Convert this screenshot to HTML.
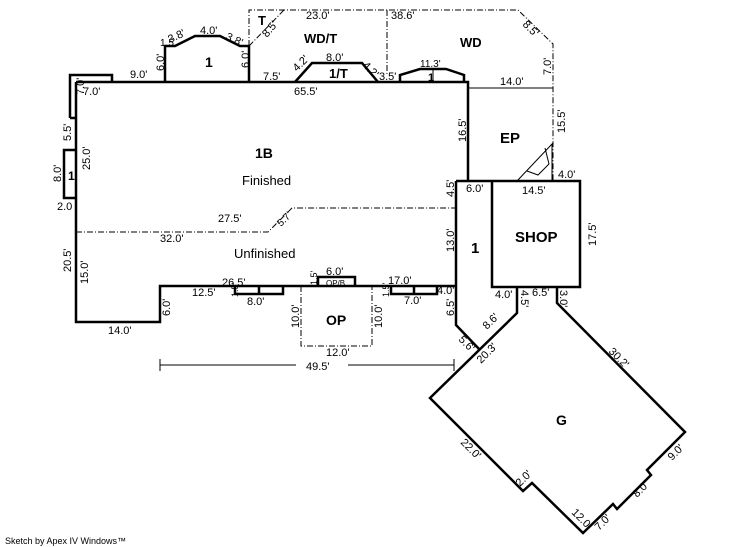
<!DOCTYPE html>
<html><head><style>
body{margin:0;background:#fff}
svg{display:block}
text{font-family:"Liberation Sans",Arial,sans-serif;font-size:11px;fill:#000}
.b{font-weight:bold;font-size:14px}
.t{stroke:#000;stroke-width:2.5;fill:none}
.n{stroke:#000;stroke-width:1;fill:none}
.d{stroke:#000;stroke-width:1;fill:none;stroke-dasharray:6,2,1,2}
</style></head><body>
<svg width="746" height="547" viewBox="0 0 746 547">
<path class="d" d="M249,46 V10 H518 L553,44 V181"/>
<path class="d" d="M249,46 L284,10"/>
<path class="d" d="M387,10 V76"/>
<path class="d" d="M76,232 H268 L292,208 H457"/>
<path class="d" d="M301,286 V346 H372 V286"/>
<path class="t" d="M76,82 H468 V181"/>
<path class="t" d="M76,82 V322 H160 V286 H456"/>
<path class="t" d="M165,82 V46 H175 L195,36 H220 L240,46 H249 V82"/>
<path class="t" d="M295,82 L312,63 H362 L378,82"/>
<path class="n" d="M433,82 V70"/>
<path class="t" d="M400,82 V75 L420,69 H446 L464,75 V82"/>
<path class="t" d="M70,118 V75 H112 V82 M70,118 H76"/>
<path class="t" d="M76,150 H64 V198 H76"/>
<path class="n" d="M468,88 H553"/>
<path class="n" d="M517,181 L552,144 V181"/>
<path class="n" d="M545,148 L549,164 L538,175 L527,171"/>
<path class="t" d="M456,181 H580 V287 H492 V181 M456,181 V325 L480,350"/>
<path class="t" d="M517,287 V313 L430,398 L523,491 L532,483 L583,533 L613,504 L617,509 L651,475 L647,470 L685,432 L557,303 V287"/>
<path class="t" d="M235,286 V294 H283 V286 M259,286 V294"/>
<path class="t" d="M318,286 V277 H355 V286"/>
<path class="t" d="M391,286 V294 H437 V286 M414,286 V294"/>
<path class="n" d="M160,365 H296 M348,365 H454 M160,359 V371 M454,359 V371"/>
<text class="b" x="255" y="158">1B</text>
<text x="242" y="185" style="font-size:13px">Finished</text>
<text x="234" y="258" style="font-size:13px">Unfinished</text>
<text class="b" x="205" y="67">1</text>
<text class="b" x="68" y="180" style="font-size:12px">1</text>
<text class="b" x="304" y="43" style="font-size:13px">WD/T</text>
<text class="b" x="258" y="25" style="font-size:13px">T</text>
<text class="b" x="460" y="47" style="font-size:13px">WD</text>
<text class="b" x="329" y="78" style="font-size:13px">1/T</text>
<text class="b" x="428" y="81" style="font-size:11px">1</text>
<text class="b" x="500" y="143" style="font-size:15px">EP</text>
<text class="b" x="515" y="242" style="font-size:15px">SHOP</text>
<text class="b" x="471" y="253" style="font-size:15px">1</text>
<text class="b" x="326" y="325" style="font-size:14px">OP</text>
<text class="b" x="556" y="425" style="font-size:14px">G</text>
<text x="306" y="19">23.0'</text>
<text x="391" y="19">38.6'</text>
<text x="200" y="34">4.0'</text>
<text x="130" y="78">9.0'</text>
<text x="263" y="80">7.5'</text>
<text x="326" y="61">8.0'</text>
<text x="294" y="95">65.5'</text>
<text x="83" y="95">7.0'</text>
<text x="420" y="67" style="font-size:10px">11.3'</text>
<text x="500" y="85">14.0'</text>
<text x="558" y="178">4.0'</text>
<text x="522" y="194">14.5'</text>
<text x="466" y="192">6.0'</text>
<text x="218" y="222">27.5'</text>
<text x="160" y="242">32.0'</text>
<text x="222" y="286">26.5'</text>
<text x="192" y="296">12.5'</text>
<text x="247" y="305">8.0'</text>
<text x="326" y="275">6.0'</text>
<text x="326" y="286" style="font-size:8px">OP/B</text>
<text x="388" y="284">17.0'</text>
<text x="404" y="304">7.0'</text>
<text x="437" y="294">4.0'</text>
<text x="326" y="356">12.0'</text>
<text x="306" y="370">49.5'</text>
<text x="108" y="334">14.0'</text>
<text x="495" y="298">4.0'</text>
<text x="532" y="296">6.5'</text>
<text x="57" y="210">2.0</text>
<g>
<text transform="translate(164,71) rotate(-90)">6.0'</text>
<text transform="translate(249,68) rotate(-90)">6.0'</text>
<text transform="translate(84,95) rotate(-90)">7.0'</text>
<text transform="translate(71,141) rotate(-90)">5.5'</text>
<text transform="translate(90,170) rotate(-90)">25.0'</text>
<text transform="translate(61,182) rotate(-90)">8.0'</text>
<text transform="translate(71,272) rotate(-90)">20.5'</text>
<text transform="translate(88,284) rotate(-90)">15.0'</text>
<text transform="translate(170,316) rotate(-90)">6.0'</text>
<text transform="translate(466,142) rotate(-90)">16.5'</text>
<text transform="translate(454,197) rotate(-90)">4.5'</text>
<text transform="translate(454,252) rotate(-90)">13.0'</text>
<text transform="translate(454,316) rotate(-90)">6.5'</text>
<text transform="translate(299,328) rotate(-90)">10.0'</text>
<text transform="translate(382,328) rotate(-90)">10.0'</text>
<text transform="translate(596,246) rotate(-90)">17.5'</text>
<text transform="translate(565,133) rotate(-90)">15.5'</text>
<text transform="translate(551,75) rotate(-90)">7.0'</text>
<text transform="translate(238,297) rotate(-90)" style="font-size:9px">1.5'</text>
<text transform="translate(317,285) rotate(-90)" style="font-size:9px">1.5'</text>
<text transform="translate(389,297) rotate(-90)" style="font-size:9px">1.5'</text>
<text transform="translate(521,290) rotate(90)">4.5'</text>
<text transform="translate(560,290) rotate(90)">3.0'</text>
</g>
<text x="160" y="46" style="font-size:10px">1.5</text>
<text transform="translate(170,43) rotate(-25)">3.8'</text>
<text transform="translate(225,39) rotate(25)">3.8'</text>
<text transform="translate(267,38) rotate(-50)">8.5'</text>
<text transform="translate(297,72) rotate(-45)">4.2'</text>
<text transform="translate(362,66) rotate(45)">4.2'</text>
<text x="379" y="80">3.5'</text>
<text transform="translate(522,25) rotate(45)">8.5'</text>
<text transform="translate(281,227) rotate(-45)" style="font-size:10px">5.7'</text>
<text transform="translate(487,330) rotate(-45)">8.6'</text>
<text transform="translate(458,340) rotate(45)">5.6'</text>
<text transform="translate(481,364) rotate(-45)">20.3'</text>
<text transform="translate(608,352) rotate(45)">30.2'</text>
<text transform="translate(460,443) rotate(45)">22.0'</text>
<text transform="translate(520,487) rotate(-45)">2.0'</text>
<text transform="translate(571,513) rotate(45)">12.0'</text>
<text transform="translate(599,531) rotate(-45)">7.0'</text>
<text transform="translate(637,498) rotate(-45)">8.0'</text>
<text transform="translate(672,461) rotate(-45)">9.0'</text>
<text x="5" y="544" style="font-size:9px">Sketch by Apex IV Windows™</text>
</svg>
</body></html>
